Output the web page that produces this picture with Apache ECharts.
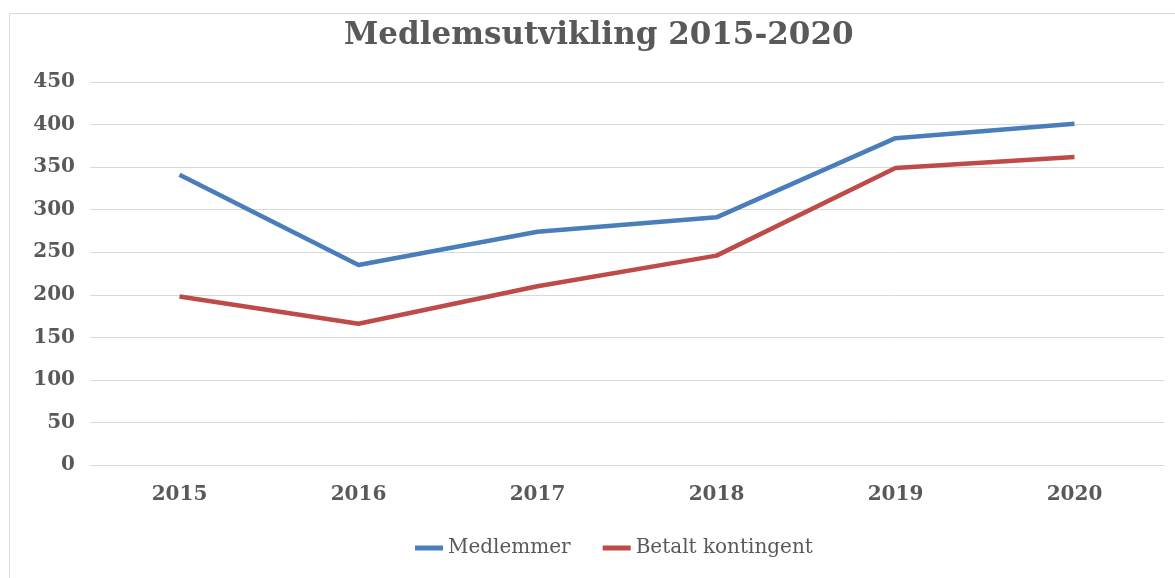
<!DOCTYPE html>
<html>
<head>
<meta charset="utf-8">
<script src="https://cdn.jsdelivr.net/npm/echarts@6/dist/echarts.min.js"></script>
<style>
  html, body { margin: 0; padding: 0; background: #fff; }
  #main { width: 1175px; height: 578px; }
</style>
</head>
<body>
<div id="main"></div>
<script>
// data
var years = ['2015', '2016', '2017', '2018', '2019', '2020'];
var medlemmer = [341, 235, 274, 291, 384, 401];
var betalt = [198, 166, 210, 246, 349, 362];
var yTicks = [0, 50, 100, 150, 200, 250, 300, 350, 400, 450];

var textColor = '#595959';
var serif = '"DejaVu Serif", "Liberation Serif", serif';

var myChart = echarts.init(document.getElementById('main'));
var option = {
    backgroundColor: '#fff',
    animation: false,
    graphic: [{
        type: 'rect',
        left: 7, top: 11,
        shape: { width: 1200, height: 600 },
        style: { fill: 'none', stroke: '#d9d9d9', lineWidth: 1 },
        silent: true
    }],
    title: {
        text: 'Medlemsutvikling 2015-2020',
        left: 339,
        top: 15,
        textStyle: {
            fontFamily: serif,
            fontSize: 31,
            fontWeight: 'bold',
            color: textColor
        }
    },
    legend: {
        data: ['Medlemmer', 'Betalt kontingent'],
        bottom: 15,
        left: 410,
        icon: 'rect',
        itemWidth: 28,
        itemHeight: 5,
        itemGap: 32,
        textStyle: { fontFamily: serif, fontSize: 20, color: textColor }
    },
    grid: {
        left: 90,
        right: 11,
        top: 82,
        bottom: 113,
        containLabel: false
    },
    xAxis: {
        type: 'category',
        data: years,
        boundaryGap: true,
        axisLine: { lineStyle: { color: '#d9d9d9', width: 1 } },
        axisTick: { show: false },
        axisLabel: {
            margin: 20,
            fontFamily: serif,
            fontSize: 20,
            fontWeight: 'bold',
            color: textColor
        }
    },
    yAxis: {
        type: 'value',
        min: yTicks[0],
        max: yTicks[yTicks.length - 1],
        interval: 50,
        axisLine: { show: false },
        axisTick: { show: false },
        splitLine: { lineStyle: { color: '#d9d9d9', width: 1 } },
        axisLabel: {
            margin: 15,
            fontFamily: serif,
            fontSize: 20,
            fontWeight: 'bold',
            color: textColor
        }
    },
    series: [
        {
            name: 'Medlemmer',
            type: 'line',
            data: medlemmer,
            symbol: 'none',
            lineStyle: { width: 4.5, color: '#4a7ebb' },
            itemStyle: { color: '#4a7ebb' }
        },
        {
            name: 'Betalt kontingent',
            type: 'line',
            data: betalt,
            symbol: 'none',
            lineStyle: { width: 4.5, color: '#be4b48' },
            itemStyle: { color: '#be4b48' }
        }
    ]
};
myChart.setOption(option);
</script>
</body>
</html>
